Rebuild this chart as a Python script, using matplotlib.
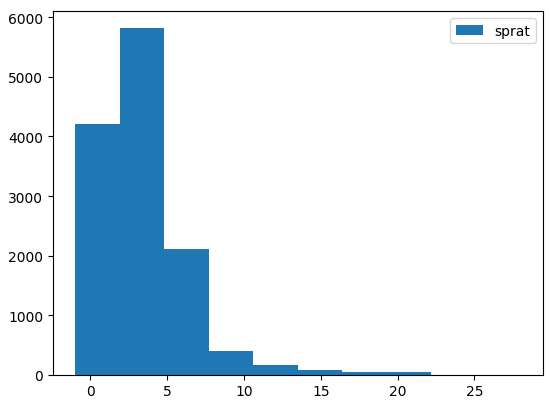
import matplotlib
matplotlib.use("Agg")
import matplotlib.pyplot as plt
import numpy as np

bin_edges = [-1.0, 1.9, 4.8, 7.7, 10.6, 13.5, 16.4, 19.3, 22.2, 25.1, 28.0]
counts = [4210, 5815, 2105, 400, 165, 82, 35, 35, 0, 0]
label = "sprat"

fig = plt.figure(figsize=(5.5, 4.06), dpi=100)
ax = fig.add_axes([0.096, 0.075, 0.891, 0.895])
ax.hist(bin_edges[:-1], bins=bin_edges, weights=counts, color="#1f77b4", label=label)
ax.set_xlim(bin_edges[0] - 0.05 * (bin_edges[-1] - bin_edges[0]),
            bin_edges[-1] + 0.05 * (bin_edges[-1] - bin_edges[0]))
ax.legend(loc="upper right")
fig.savefig("out.png", dpi=100)
